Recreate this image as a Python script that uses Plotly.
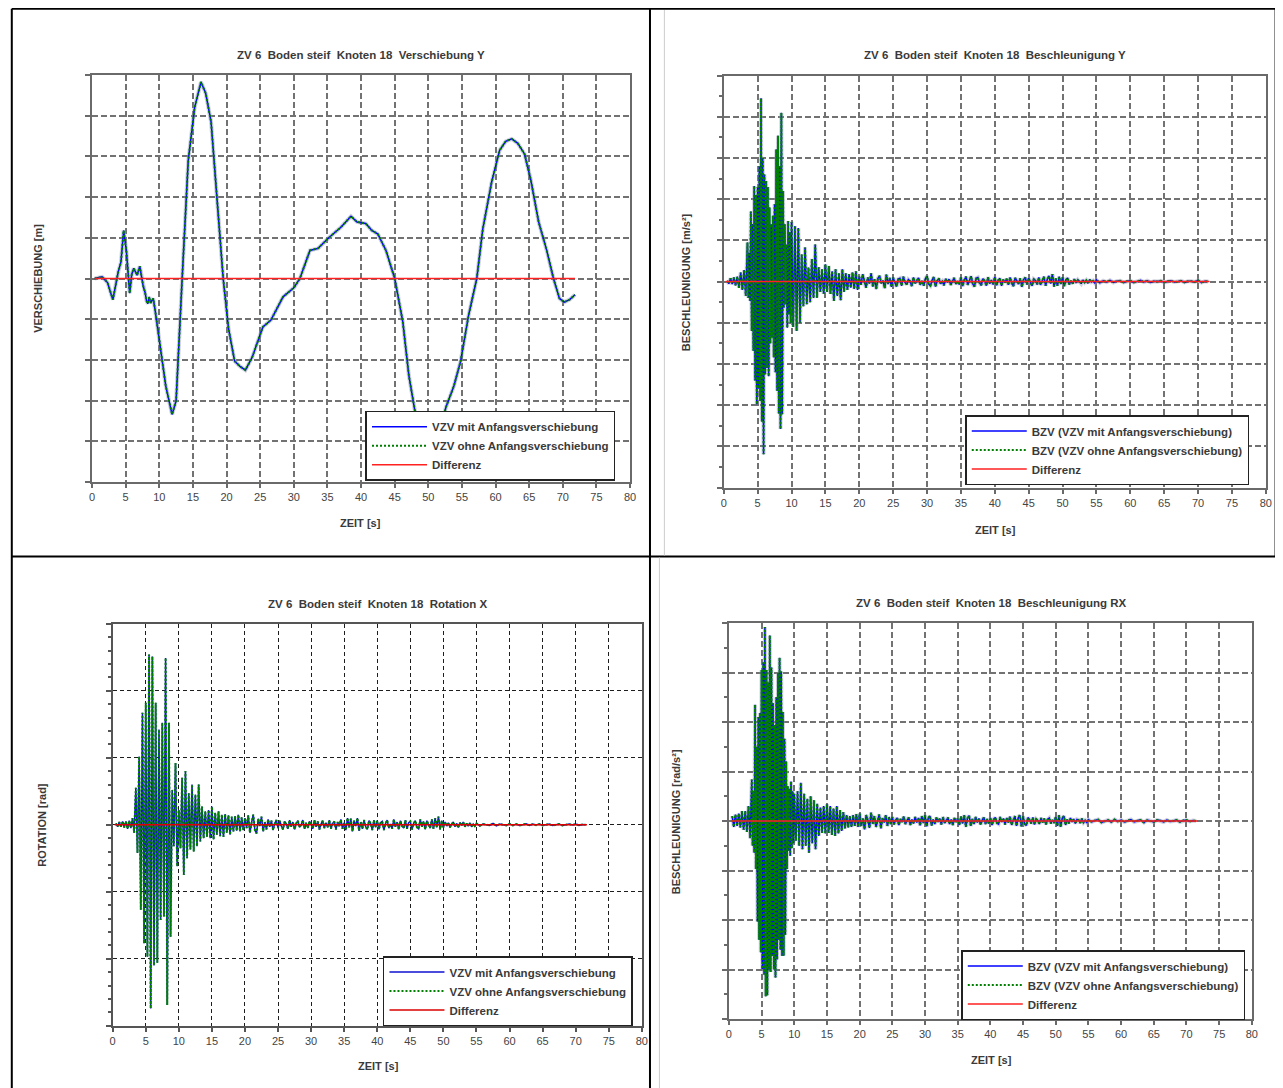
import plotly.graph_objects as go

W, H = 1283, 1088
OFF = 8          # the page body margin shifts the figure by 8 px; positions below are page pixels
FONT = "Liberation Sans, Arial, sans-serif"
NB = "\u00a0"

# ---------------- data ----------------
X_TICKS = list(range(0, 81, 5))

# Panel 1: Verschiebung Y (time [s], value in grid units)
P1_T = [0.4, 1.5, 2.3, 3.1, 3.9, 4.3, 4.7, 5.1, 5.6, 5.9, 6.2, 6.7, 7.1, 7.6, 7.9, 8.1, 8.3, 8.5, 8.7, 9.1,
        9.4, 10.0, 10.96, 11.9, 12.5, 13.4, 14.3, 15.25, 16.2, 16.9, 17.7, 18.6, 19.5, 20.3, 21.2, 22.0,
        22.8, 23.8, 25.4, 26.6, 28.4, 30.0, 30.9, 32.4, 33.6, 35.2, 37.0, 38.5, 39.4, 40.7, 41.6, 42.5,
        43.7, 45.0, 46.2, 47.1, 48.0, 49.0, 50.2, 51.4, 52.6, 53.8, 54.8, 56.0, 57.2, 58.1, 59.4, 60.6,
        61.5, 62.4, 63.3, 64.3, 65.2, 66.4, 67.6, 68.6, 69.5, 70.2, 71.0, 71.8]
P1_Y = [0.0, 0.04, -0.1, -0.52, 0.17, 0.4, 1.18, 0.69, -0.36, 0.1, 0.25, 0.08, 0.3, -0.18, -0.35, -0.55,
        -0.62, -0.45, -0.6, -0.49, -0.8, -1.5, -2.64, -3.34, -3.0, 0.0, 2.89, 4.2, 4.83, 4.55, 3.85, 1.92,
        0.0, -1.24, -2.03, -2.16, -2.25, -1.94, -1.19, -1.02, -0.45, -0.23, 0.0, 0.69, 0.74, 1.0, 1.26,
        1.53, 1.39, 1.35, 1.18, 1.09, 0.69, 0.0, -1.06, -2.38, -3.25, -4.0, -4.4, -4.0, -3.17, -2.64,
        -2.03, -0.89, 0.0, 1.22, 2.36, 3.15, 3.37, 3.43, 3.32, 3.06, 2.45, 1.39, 0.69, 0.0, -0.49, -0.58,
        -0.52, -0.4]
P1_DIFF_T = [0.4, 71.8]
DIFF_Y = [0.0, 0.0]
DIFF_T = [0.3, 71.7]

# Panels 2-4: oscillation peaks in sampled segments (start [s], step [s])
SEG_A = (0.5, 0.25)      # quiet start
SEG_S = (3.5, 0.125)     # strong motion (panels 2, 4)
SEG_S3 = (3.5, 0.25)     # strong motion (panel 3)
SEG_C = (10.0, 0.25)     # decay
SEG_B = (20.0, 0.25)     # coda
SEG_D = (55.0, 0.5)      # tail

P2_A = [0.02, -0.05, 0.08, -0.06, 0.10, -0.09, 0.12, -0.15, 0.22, -0.20, 0.28, -0.35]
P2_S = [0.95, -0.40, 0.70, -0.47, 1.70, -1.20, 1.40, -1.68, 2.32, -2.40, 2.10, -2.98,
        2.30, -2.60, 2.80, -2.90, 4.45, -3.40, 3.00, -4.19, 2.60, -2.25, 2.44, -2.10,
        2.30, -2.30, 1.80, -1.50, 1.39, -1.36, 1.60, -1.84, 1.88, -2.20, 3.21, -2.65,
        3.54, -3.20, 2.80, -3.58, 4.10, -3.22, 2.20, -0.63, 1.39, -0.55, 0.90, -1.12,
        1.47, -0.80, 1.20, -1.00]
P2_C = [1.45, -1.10, 1.35, -1.20, 1.30, -1.00, 0.66, -0.60, 0.83, -0.55, 0.34, -0.50,
        0.55, -0.40, 0.90, -0.39, 0.35, -0.25, 0.30, -0.30, 0.42, -0.25, 0.38, -0.30,
        0.25, -0.47, 0.30, -0.35, 0.20, -0.45, 0.30, -0.25, 0.20, -0.20, 0.18, -0.15,
        0.22, -0.18, 0.25, -0.20]
P2_B = [0.12, -0.08, 0.18, 0.02, -0.15, 0.10, -0.05, 0.20, -0.12, 0.06, -0.18, 0.08, 0.14, -0.04, 0.02, -0.16, 0.17, -0.06, 0.09, -0.13,
        0.10, -0.03, -0.12, 0.06, 0.08, -0.10, 0.12, -0.02, -0.07, 0.05, 0.01, -0.11, 0.10, -0.04, 0.03, 0.09, -0.08, 0.02, -0.10, 0.07,
        0.13, -0.06, -0.10, 0.04, 0.11, -0.12, 0.02, 0.08, -0.05, 0.00, -0.09, 0.07, -0.02, 0.06, -0.08, 0.03, 0.09, -0.06, 0.01, -0.07,
        0.10, -0.11, 0.04, 0.12, -0.08, 0.02, 0.13, -0.06, -0.12, 0.08, 0.10, -0.03, -0.09, 0.07, 0.02, -0.10, 0.11, -0.05, 0.04, -0.07,
        0.11, -0.09, 0.03, 0.08, -0.10, 0.05, -0.02, 0.07, -0.08, 0.10, -0.04, -0.11, 0.09, 0.02, -0.06, 0.08, -0.13, 0.05, 0.10, -0.07,
        0.08, -0.02, -0.10, 0.06, 0.03, -0.07, 0.10, -0.08, 0.04, 0.12, -0.10, 0.06, 0.14, -0.05, 0.18, -0.12, 0.08, -0.10, 0.12, -0.06,
        0.10, -0.11, 0.04, 0.09, -0.07, 0.02, -0.05, 0.06, -0.03, 0.04, 0.01, -0.05, 0.04, -0.02, 0.03, -0.04, 0.05, -0.01, 0.02, -0.03]
P2_D = [0.04, -0.03, 0.02, -0.01, 0.03, -0.02, 0.01, 0.02, -0.02, 0.01,
        0.02, -0.02, 0.00, 0.03, -0.01, 0.02, -0.02, 0.01, 0.00, 0.02,
        -0.02, 0.01, 0.02, -0.01, 0.00, 0.02, -0.02, 0.01, 0.01, -0.01,
        0.03, -0.02, 0.01, 0.00]

P3_A = [0.02, -0.03, 0.04, -0.03, 0.05, -0.04, 0.05, -0.06, 0.06, -0.05, 0.10, -0.12]
P3_S = [0.55, -0.42, 1.02, -1.27, 1.67, -1.77, 1.82, -1.97, 2.54, -2.74, 2.51, -2.10,
        1.82, -2.06, 1.42, -1.42, 1.52, -1.37, 2.49, -2.69, 1.52, -1.67, 0.52, -0.32,
        0.92, -0.62]
P3_C = [0.22, -0.35, 0.70, -0.75, 0.80, -0.50, 0.47, -0.37, 0.60, -0.40, 0.45, -0.32,
        0.60, -0.25, 0.27, -0.20, 0.20, -0.18, 0.22, -0.20, 0.27, -0.22, 0.18, -0.15,
        0.20, -0.17, 0.15, -0.18, 0.16, -0.12, 0.14, -0.15, 0.12, -0.10, 0.13, -0.09,
        0.15, -0.10, 0.11, -0.08]
P3_B = [0.10, -0.05, 0.14, -0.12, 0.03, 0.15, -0.08, -0.13, 0.09, -0.02, 0.12, -0.10, 0.04, -0.07, 0.08, -0.03, 0.06, -0.08, 0.02, 0.07,
        -0.05, 0.06, -0.02, -0.07, 0.05, 0.01, -0.06, 0.07, -0.03, 0.04, -0.07, 0.02, 0.06, -0.04, 0.00, 0.07, -0.06, 0.03, -0.05, 0.05,
        0.02, -0.06, 0.07, -0.03, 0.05, -0.07, 0.01, 0.06, -0.05, 0.03, -0.04, 0.07, -0.06, 0.02, 0.05, -0.07, 0.04, -0.02, 0.08, -0.06,
        0.03, -0.08, 0.10, -0.04, 0.09, -0.10, 0.06, -0.02, 0.10, -0.09, 0.04, -0.06, 0.07, -0.03, -0.07, 0.06, 0.02, -0.08, 0.07, -0.04,
        0.06, -0.07, 0.03, 0.05, -0.08, 0.02, 0.07, -0.05, 0.01, -0.06, 0.08, -0.03, 0.04, -0.07, 0.06, -0.02, -0.05, 0.07, -0.06, 0.03,
        0.05, -0.07, 0.02, 0.06, -0.04, -0.06, 0.08, -0.03, 0.05, -0.07, 0.06, 0.01, -0.05, 0.08, -0.06, 0.10, -0.04, 0.12, -0.07, 0.06,
        -0.04, 0.04, -0.02, 0.03, -0.04, 0.01, 0.04, -0.03, 0.02, -0.04, 0.03, -0.01, 0.04, -0.03, 0.02, -0.02, 0.03, -0.03, 0.01, -0.02]
P3_D = [0.02, -0.015, 0.01, 0.00, -0.01, 0.02, -0.015, 0.01, 0.00, -0.01,
        0.015, -0.01, 0.01, -0.01, 0.00, 0.015, -0.01, 0.01, -0.005, 0.01,
        -0.01, 0.005, 0.01, -0.01, 0.00, 0.01, -0.01, 0.005, 0.01, -0.005,
        0.01, -0.01, 0.005, 0.0]

P4_A = [0.10, -0.12, 0.13, -0.10, 0.15, -0.13, 0.20, -0.18, 0.20, -0.22, 0.30, -0.35]
P4_S = [0.84, -0.50, 0.60, -0.64, 2.35, -0.97, 1.50, -2.03, 2.10, -2.40, 2.18, -2.65,
        3.05, -2.99, 3.20, -3.10, 3.92, -3.54, 3.05, -3.52, 2.80, -3.00, 3.75, -3.05,
        3.10, -2.72, 2.38, -3.00, 1.94, -3.16, 2.50, -2.80, 2.99, -2.40, 3.30, -2.60,
        3.02, -2.72, 2.20, -2.72, 1.66, -2.30, 1.20, -0.97, 0.70, -0.60, 0.65, -0.70,
        0.80, -0.55, 0.60, -0.45]
P4_C = [0.55, -0.40, 0.60, -0.50, 0.77, -0.57, 0.55, -0.50, 0.45, -0.64, 0.50, -0.45,
        0.42, -0.57, 0.35, -0.30, 0.27, -0.24, 0.30, -0.25, 0.34, -0.24, 0.30, -0.28,
        0.25, -0.30, 0.30, -0.25, 0.22, -0.20, 0.18, -0.15, 0.12, -0.13, 0.10, -0.12,
        0.12, -0.10, 0.14, -0.12]
P4_B = [0.15, -0.10, 0.05, -0.17, 0.12, 0.02, -0.14, 0.17, -0.06, 0.10, -0.12, 0.04, 0.13, -0.15, 0.06, -0.03, 0.12, -0.10, 0.08, -0.06,
        0.08, -0.07, 0.02, 0.06, -0.08, 0.04, -0.02, 0.09, -0.06, 0.01, 0.07, -0.08, 0.03, -0.05, 0.08, -0.03, 0.06, -0.09, 0.10, -0.04,
        0.12, -0.11, 0.06, 0.10, -0.09, 0.03, -0.06, 0.07, -0.02, 0.05, -0.07, 0.08, -0.04, 0.01, 0.07, -0.06, 0.03, -0.08, 0.06, -0.02,
        0.05, -0.08, 0.09, -0.05, 0.12, -0.12, 0.06, 0.11, -0.10, 0.04, -0.06, 0.08, -0.03, 0.05, -0.07, 0.02, 0.07, -0.06, 0.04, -0.05,
        0.06, -0.08, 0.03, 0.07, -0.04, -0.06, 0.08, -0.02, 0.05, -0.07, 0.06, -0.03, 0.09, -0.08, 0.02, 0.10, -0.10, 0.06, 0.12, -0.11,
        0.10, -0.06, -0.09, 0.07, 0.02, -0.05, 0.07, -0.07, 0.04, 0.01, -0.06, 0.06, -0.03, 0.05, -0.07, 0.03, 0.06, -0.05, 0.02, -0.04,
        0.08, -0.10, 0.12, -0.12, 0.06, 0.10, -0.08, 0.03, -0.05, 0.06, -0.02, 0.04, -0.05, 0.03, 0.02, -0.04, 0.05, -0.03, 0.01, -0.03]
P4_D = [0.03, -0.02, 0.01, 0.03, -0.03, 0.00, 0.02, -0.02, 0.03, -0.01,
        0.02, -0.02, 0.00, 0.03, -0.02, 0.01, 0.02, -0.03, 0.02, 0.00,
        -0.02, 0.02, 0.01, -0.02, 0.02, -0.01, 0.00, 0.02, -0.02, 0.01,
        0.02, -0.01, 0.01, 0.0]


def sampled(*segments):
    t, v = [], []
    for (start, step), vals in segments:
        t += [start + step * i for i in range(len(vals))]
        v += list(vals)
    return t, v


P2_T, P2_Y = sampled((SEG_A, P2_A), (SEG_S, P2_S), (SEG_C, P2_C), (SEG_B, P2_B), (SEG_D, P2_D))
P3_T, P3_Y = sampled((SEG_A, P3_A), (SEG_S3, P3_S), (SEG_C, P3_C), (SEG_B, P3_B), (SEG_D, P3_D))
P4_T, P4_Y = sampled((SEG_A, P4_A), (SEG_S, P4_S), (SEG_C, P4_C), (SEG_B, P4_B), (SEG_D, P4_D))

VZV = ["VZV mit Anfangsverschiebung", "VZV ohne Anfangsverschiebung", "Differenz"]
BZV = ["BZV (VZV mit Anfangsverschiebung)", "BZV (VZV ohne Anfangsverschiebung)", "Differenz"]


def ttl(*parts):
    return (NB + NB).join(parts)


PANELS = [
    dict(t=P1_T, y=P1_Y, dt=P1_DIFF_T, names=VZV, r=5, minor=None,
         title=ttl("ZV 6", "Boden steif", "Knoten 18", "Verschiebung Y"), ylab="VERSCHIEBUNG [m]",
         px=(89.6, 631.5), py=(75, 482), tpos=(360, 55), xl=(360, 523), yl=(35, 278),
         leg=(365, 410.7), crisp=False, blue="#0000ff", red="#ff2020"),
    dict(t=P2_T, y=P2_Y, dt=DIFF_T, names=BZV, r=5, minor=0.5,
         title=ttl("ZV 6", "Boden steif", "Knoten 18", "Beschleunigung Y"), ylab="BESCHLEUNIGUNG [m/s²]",
         px=(725.8, 1271.7), py=(75.7, 487.5), tpos=(999, 55), xl=(999, 530), yl=(688, 282),
         leg=(969, 415), crisp=False, blue="#0000ff", red="#ff2020"),
    dict(t=P3_T, y=P3_Y, dt=DIFF_T, names=VZV, r=3, minor=0.2,
         title=ttl("ZV 6", "Boden steif", "Knoten 18", "Rotation X"), ylab="ROTATION [rad]",
         px=(110.4, 643.3), py=(623.7, 1025.8), tpos=(377, 604), xl=(378, 1066), yl=(39, 825),
         leg=(382.6, 956), crisp=True, blue="#1010d0", red="#dd0000"),
    dict(t=P4_T, y=P4_Y, dt=DIFF_T, names=BZV, r=4, minor=0.5,
         title=ttl("ZV 6", "Boden steif", "Knoten 18", "Beschleunigung RX"), ylab="BESCHLEUNIGUNG [rad/s²]",
         px=(731, 1257.6), py=(623, 1019), tpos=(995, 603), xl=(995, 1060), yl=(678, 822),
         leg=(965, 950), crisp=False, blue="#0000ff", red="#ff2020"),
]


def fx(px):
    return (px - OFF) / W


def fy(py):
    return 1 - (py - OFF) / H


fig = go.Figure()
layout = dict(width=W, height=H, margin=dict(l=0, r=0, t=0, b=0), paper_bgcolor="white",
              plot_bgcolor="white", showlegend=True, annotations=[], shapes=[])


def ann(text, px, py, angle=0, size=11, weight="bold", color="#3a3a3a"):
    return dict(text=text, x=fx(px), y=fy(py), xref="paper", yref="paper", showarrow=False,
                xanchor="center", yanchor="middle", textangle=angle,
                font=dict(size=size, color=color, family=FONT, weight=weight))


for i, p in enumerate(PANELS):
    k = "" if i == 0 else str(i + 1)
    xa, ya = "x" + k, "y" + k
    lg = "legend" + k
    if p["crisp"]:
        grid = dict(gridcolor="#1e1e1e", gridwidth=1, griddash="4px,3px")
        axc = "#555"
    else:
        grid = dict(gridcolor="#727272", gridwidth=1.8, griddash="6px,3px")
        axc = "#6a6a6a"

    if not p["crisp"]:
        fig.add_trace(go.Scatter(x=p["t"], y=p["y"], mode="lines", xaxis=xa, yaxis=ya, showlegend=False,
                                 hoverinfo="skip",
                                 line=dict(color="rgba(150,150,185,0.45)", width=4)))
    fig.add_trace(go.Scatter(x=p["t"], y=p["y"], mode="lines", name=p["names"][0], xaxis=xa, yaxis=ya,
                             legend=lg, line=dict(color=p["blue"], width=1.5)))
    fig.add_trace(go.Scatter(x=p["t"], y=p["y"], mode="lines", name=p["names"][1], xaxis=xa, yaxis=ya,
                             legend=lg, line=dict(color="#008000", width=2, dash="2px,2px")))
    fig.add_trace(go.Scatter(x=p["dt"], y=DIFF_Y, mode="lines", name=p["names"][2], xaxis=xa, yaxis=ya,
                             legend=lg, line=dict(color=p["red"], width=1.5)))

    layout["xaxis" + k] = dict(
        domain=[fx(p["px"][0]), fx(p["px"][1])], anchor=ya, range=[0, 80],
        tickmode="array", tickvals=X_TICKS, ticktext=[str(v) for v in X_TICKS],
        ticks="outside", ticklen=4, tickwidth=1.5, tickcolor=axc,
        showline=True, linecolor=axc, linewidth=2, mirror=True, showgrid=True, zeroline=False,
        tickfont=dict(size=11, color="#444", family=FONT), fixedrange=True, **grid)
    yax = dict(
        domain=[fy(p["py"][1]), fy(p["py"][0])], anchor=xa, range=[-p["r"], p["r"]],
        tick0=0, dtick=1, showticklabels=False, ticks="outside", ticklen=5, tickwidth=1.5,
        tickcolor=axc, showline=True, linecolor=axc, linewidth=2, mirror=True, showgrid=True,
        zeroline=False, fixedrange=True, **grid)
    if p["minor"]:
        yax["minor"] = dict(dtick=p["minor"], ticks="outside", ticklen=3, tickcolor=axc, showgrid=False)
    layout["yaxis" + k] = yax

    layout[lg] = dict(x=fx(p["leg"][0]), y=fy(p["leg"][1]), xanchor="left", yanchor="top",
                      bgcolor="white", bordercolor="#222", borderwidth=1.5, itemwidth=55,
                      tracegroupgap=0, font=dict(size=11.5, color="#3a3a3a", family=FONT, weight="bold"))

    layout["annotations"].append(ann(p["title"], *p["tpos"], size=11.5))
    layout["annotations"].append(ann("ZEIT [s]", *p["xl"]))
    layout["annotations"].append(ann(p["ylab"], *p["yl"], angle=-90))


def pline(x0, y0, x1, y1, color="black", width=2):
    return dict(type="line", xref="paper", yref="paper", x0=fx(x0), y0=fy(y0), x1=fx(x1),
                y1=fy(y1), line=dict(color=color, width=width), layer="above")


layout["shapes"] += [
    pline(8.8, 8.8, 8.8, 1096),
    pline(8.8, 8.8, 1291, 8.8),
    pline(1281.5, 8.8, 1281.5, 556.5),
    pline(651.5, 8.8, 651.5, 1096),
    pline(8.8, 556.5, 1291, 556.5),
    pline(666, 10, 666, 555.5, color="#cccccc", width=1),
    pline(661, 557.5, 661, 1096, color="#cccccc", width=1),
]

fig.update_layout(**layout)
fig.write_html("out.html")
